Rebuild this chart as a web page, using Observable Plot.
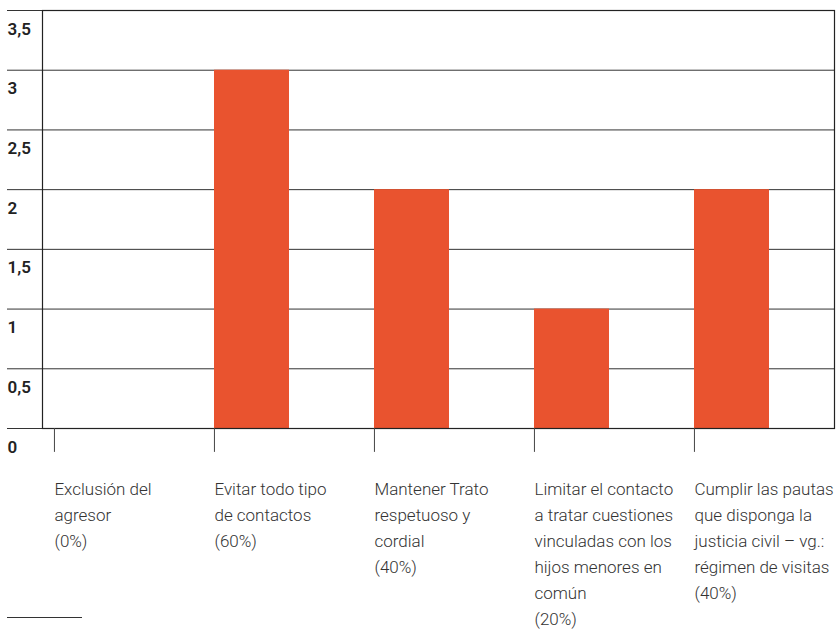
<!DOCTYPE html>
<html>
<head>
<meta charset="utf-8">
<script src="https://cdn.jsdelivr.net/npm/d3@7"></script>
<script src="https://cdn.jsdelivr.net/npm/@observablehq/plot@0.6"></script>
<style>
  html, body { margin: 0; padding: 0; background: #fff; }
  #wrap { position: relative; width: 838px; height: 629px; }
  #foot { position: absolute; left: 7px; top: 617px; width: 75px; border-top: 1px solid #333; }
</style>
</head>
<body>
<div id="wrap"><div id="chart"></div><div id="foot"></div></div>
<script>
const categories = [
  "Exclusión del\nagresor\n(0%)",
  "Evitar todo tipo\nde contactos\n(60%)",
  "Mantener Trato\nrespetuoso y\ncordial\n(40%)",
  "Limitar el contacto\na tratar cuestiones\nvinculadas con los\nhijos menores en\ncomún\n(20%)",
  "Cumplir las pautas\nque disponga la\njusticia civil – vg.:\nrégimen de visitas\n(40%)"
];
const values = [0, 3, 2, 1, 2];
const yTicks = [0, 0.5, 1, 1.5, 2, 2.5, 3, 3.5];
const yTickLabels = ["0", "0,5", "1", "1,5", "2", "2,5", "3", "3,5"];

const data = categories.map((c, i) => ({cat: c, value: values[i]}));
const yt = yTicks.map((v, i) => ({v, label: yTickLabels[i]}));

const paddingInner = 0.532;
const range = [53, 770];
const step = (range[1] - range[0]) / (categories.length - paddingInner);
const bw = step * (1 - paddingInner);

const plot = Plot.plot({
  width: 838,
  height: 629,
  marginLeft: 42,
  marginRight: 4,
  marginTop: 10,
  marginBottom: 201,
  style: {fontFamily: "Roboto, sans-serif", background: "#fff"},
  x: {type: "band", domain: categories, range, paddingInner, paddingOuter: 0, axis: null},
  y: {domain: [0, 3.5], axis: null},
  marks: [
    Plot.ruleY(yTicks, {y: d => d, stroke: "#333", strokeWidth: 1, insetLeft: -35}),
    Plot.barY(data, {x: "cat", y: "value", fill: "#e9532f"}),
    Plot.frame({stroke: "#222", strokeWidth: 1.2}),
    Plot.ruleX(categories, {x: d => d, y1: 0, y2: -0.2, dx: -bw / 2, stroke: "#444", strokeWidth: 1}),
    Plot.text(yt, {
      y: "v", text: "label", frameAnchor: "left", dx: -35, dy: 24,
      textAnchor: "start", lineAnchor: "bottom",
      fontSize: 17, fontWeight: 600, fill: "#222"
    }),
    Plot.text(categories, {
      x: d => d, text: d => d, frameAnchor: "bottom", dx: -bw / 2, dy: 48,
      textAnchor: "start", lineAnchor: "top", lineHeight: 26 / 17,
      fontSize: 17, fontWeight: 300, fill: "#333",
      letterSpacing: "-0.3px"
    })
  ]
});
document.getElementById("chart").appendChild(plot);
</script>
</body>
</html>
